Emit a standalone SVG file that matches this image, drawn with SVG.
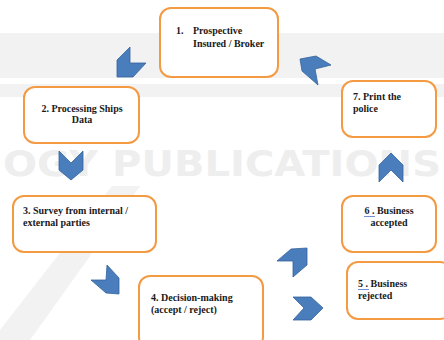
<svg xmlns="http://www.w3.org/2000/svg" width="444" height="340" viewBox="0 0 444 340">
<style>
.box{fill:#fff;stroke:#f39a43;stroke-width:2}
.t{font-family:"Liberation Serif","Times New Roman",serif;font-weight:bold;font-size:10px;fill:#1a1a1a}
.c{text-anchor:middle}
.arr{fill:#4a7dbb;stroke:#35639c;stroke-width:0.8;stroke-linejoin:miter}
.wm{font-family:"DejaVu Sans","Liberation Sans",sans-serif;font-weight:bold;fill:#eeeeee}
</style>
<rect width="444" height="340" fill="#fff"/>
<g id="watermark">
<rect x="0" y="33" width="444" height="45" fill="#f2f2f2"/>
<rect x="0" y="84" width="444" height="13" fill="#f2f2f2"/>
<text class="wm" x="3" y="176" font-size="36" textLength="438" lengthAdjust="spacingAndGlyphs">OGY PUBLICATIONS</text>
<polygon points="112,186 140,186 30,340 0,340 0,330" fill="#f2f2f2"/>
</g>
<g id="connectors">
<polygon class="arr" points="130,47 130,63 146,63 133,77 117,77 117,60"/>
<polygon class="arr" points="300,59 316,56 331,65 315,69 318,85 302,71"/>
<polygon class="arr" points="59,151 71,163 83,151 83,170 71,180 59,170"/>
<polygon class="arr" points="107,265 119,278 119,294 106,293 91,280 106,280"/>
<polygon class="arr" points="277,261 291,249 307,248 307,265 293,277 293,261"/>
<polygon class="arr" points="293,297 311,297 323,308 311,320 293,320 304,308"/>
<polygon class="arr" points="391,153 403,165 403,182 391,170 379,182 379,165"/>
</g>
<g id="node1">
<rect class="box" x="160" y="8" width="118" height="69" rx="11"/>
<text class="t" x="176" y="34">1.</text>
<text class="t" x="193" y="34">Prospective</text>
<text class="t" x="193" y="47">Insured / Broker</text>
</g>
<g id="node2">
<rect class="box" x="24" y="87" width="115" height="56" rx="11"/>
<text class="t c" x="82" y="112">2. Processing Ships</text>
<text class="t c" x="82" y="123">Data</text>
</g>
<g id="node3">
<rect class="box" x="13" y="196" width="143" height="56" rx="11"/>
<text class="t" x="23" y="214">3. Survey from internal /</text>
<text class="t" x="23" y="226">external parties</text>
</g>
<g id="node4">
<rect class="box" x="139" y="276" width="124" height="72" rx="11"/>
<text class="t" x="151" y="301">4. Decision-making</text>
<text class="t" x="151" y="313">(accept / reject)</text>
</g>
<g id="node5">
<rect class="box" x="347" y="262" width="104" height="57" rx="11"/>
<text class="t" x="358" y="287">5 . Business</text>
<line x1="358" y1="289.5" x2="369" y2="289.5" stroke="#6f8fd6" stroke-width="1"/>
<text class="t" x="358" y="299">rejected</text>
</g>
<g id="node6">
<rect class="box" x="342" y="196" width="94" height="56" rx="11"/>
<text class="t c" x="389" y="214">6 . Business</text>
<line x1="364" y1="216.5" x2="375" y2="216.5" stroke="#6f8fd6" stroke-width="1"/>
<text class="t c" x="389" y="226">accepted</text>
</g>
<g id="node7">
<rect class="box" x="342" y="81" width="94" height="56" rx="11"/>
<text class="t" x="353" y="100">7. Print the</text>
<text class="t" x="353" y="112">police</text>
</g>
</svg>
